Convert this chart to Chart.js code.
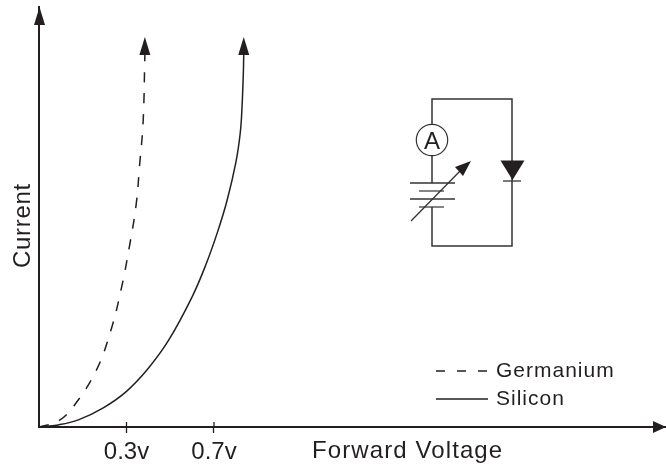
<!DOCTYPE html>
<html>
<head>
<meta charset="utf-8">
<style>
  html, body { margin: 0; padding: 0; background: #fff; }
  canvas { display: block; }
</style>
<script src="https://cdn.jsdelivr.net/npm/chart.js"></script>
</head>
<body>
<canvas id="chart" width="666" height="465"></canvas>
<script>
// axis units are arbitrary: the picture has no real scale, one x unit = one tick step
const germaniumX = [0, 0.22, 0.39, 0.65, 0.82, 0.94, 1.03, 1.11, 1.15, 1.19, 1.21];
const germaniumY = [0, 1.4, 4.8, 13.3, 22.9, 32.9, 42.6, 52.9, 62.4, 72.6, 88.6];
const siliconX = [0, 0.22, 0.45, 0.73, 0.99, 1.25, 1.48, 1.75, 1.91, 2.04, 2.15, 2.25, 2.30, 2.32, 2.335, 2.34];
const siliconY = [0, 0.5, 1.7, 4.5, 8.3, 14, 20.6, 31, 38.8, 46.4, 54, 63, 70, 76, 84, 88.6];
const tickValues = [1, 2];
const tickLabels = ['0.3v', '0.7v'];
const seriesNames = ['Germanium', 'Silicon'];
const xTitle = 'Forward Voltage';
const yTitle = 'Current';

const INK = '#231f20';
const FONT = '"Liberation Sans", Arial, sans-serif';

function toPoints(xs, ys) {
    return xs.map((x, i) => ({ x: x, y: ys[i] }));
}

function triangle(ctx, a, b, c) {
    ctx.beginPath();
    ctx.moveTo(a[0], a[1]);
    ctx.lineTo(b[0], b[1]);
    ctx.lineTo(c[0], c[1]);
    ctx.closePath();
    ctx.fill();
}

function line(ctx, x1, y1, x2, y2, w) {
    ctx.lineWidth = w;
    ctx.beginPath();
    ctx.moveTo(x1, y1);
    ctx.lineTo(x2, y2);
    ctx.stroke();
}

function drawCircuit(ctx) {
    ctx.strokeStyle = '#333';
    ctx.fillStyle = INK;
    // wires
    ctx.lineWidth = 1.5;
    ctx.beginPath();
    ctx.moveTo(432, 124);
    ctx.lineTo(432, 99);
    ctx.lineTo(512, 99);
    ctx.lineTo(512, 246);
    ctx.lineTo(432, 246);
    ctx.lineTo(432, 207);
    ctx.stroke();
    line(ctx, 432, 156, 432, 183, 1.5);
    // ammeter
    ctx.lineWidth = 1.2;
    ctx.beginPath();
    ctx.arc(432, 140, 15.7, 0, Math.PI * 2);
    ctx.stroke();
    ctx.font = '24px ' + FONT;
    ctx.textAlign = 'center';
    ctx.textBaseline = 'alphabetic';
    ctx.fillText('A', 432, 149);
    // battery
    line(ctx, 410, 183, 455, 183, 1.6);
    line(ctx, 419, 191, 444, 191, 1.2);
    line(ctx, 410, 199, 455, 199, 1.6);
    line(ctx, 419, 207, 444, 207, 1.2);
    // variable arrow
    line(ctx, 411, 221, 462, 169, 1.3);
    triangle(ctx, [471, 161], [455, 167], [463, 176]);
    // diode
    triangle(ctx, [500.5, 160.5], [524.5, 160.5], [512.5, 180]);
    line(ctx, 503, 181, 521, 181, 1.3);
}

const extras = {
    id: 'extras',
    afterDatasetsDraw(chart) {
        const ctx = chart.ctx;
        const sx = chart.scales.x;
        const sy = chart.scales.y;
        const x0 = sx.left + 0.5;
        const y0 = sy.bottom;
        ctx.save();
        ctx.fillStyle = INK;
        ctx.strokeStyle = INK;

        // axis arrows
        triangle(ctx, [x0, sy.top], [x0 - 5.5, sy.top + 18], [x0 + 5.5, sy.top + 18]);
        triangle(ctx, [sx.right, y0], [sx.right - 13, y0 - 6], [sx.right - 13, y0 + 6]);

        // tick stubs above the axis
        tickValues.forEach(v => {
            const px = sx.getPixelForValue(v);
            line(ctx, px, y0 - 5, px, y0, 1.3);
        });

        // arrow at the end of each curve
        chart.getSortedVisibleDatasetMetas().forEach(meta => {
            const p = meta.data[meta.data.length - 1];
            triangle(ctx, [p.x, p.y - 18], [p.x - 5.5, p.y], [p.x + 5.5, p.y]);
        });

        // axis titles
        ctx.textBaseline = 'alphabetic';
        ctx.textAlign = 'left';
        ctx.font = '24px ' + FONT;
        ctx.letterSpacing = '1.1px';
        ctx.fillText(xTitle, 312, 458);
        ctx.save();
        ctx.translate(30, 268);
        ctx.rotate(-Math.PI / 2);
        ctx.letterSpacing = '0.7px';
        ctx.fillText(yTitle, 0, 0);
        ctx.restore();

        // legend
        ctx.font = '21px ' + FONT;
        ctx.letterSpacing = '1px';
        const rows = [371, 399];
        chart.data.datasets.forEach((ds, i) => {
            ctx.setLineDash(i === 0 ? [9, 12] : []);
            line(ctx, 436, rows[i], 488, rows[i], 1.4);
            ctx.setLineDash([]);
            ctx.fillText(ds.label, 496, rows[i] + 6);
        });
        ctx.letterSpacing = '0px';

        drawCircuit(ctx);
        ctx.restore();
    }
};

new Chart(document.getElementById('chart'), {
    type: 'line',
    data: {
        datasets: [{
            label: seriesNames[0],
            data: toPoints(germaniumX, germaniumY),
            borderColor: INK,
            borderWidth: 1.5,
            borderDash: [10, 11],
            tension: 0.4,
            pointRadius: 0,
            fill: false
        }, {
            label: seriesNames[1],
            data: toPoints(siliconX, siliconY),
            borderColor: INK,
            borderWidth: 1.5,
            tension: 0.4,
            pointRadius: 0,
            fill: false
        }]
    },
    options: {
        responsive: false,
        animation: false,
        layout: { padding: { top: 7, left: 0, right: 0, bottom: 0 } },
        plugins: { legend: { display: false }, tooltip: { enabled: false } },
        scales: {
            x: {
                type: 'linear',
                min: 0,
                max: 7.166,
                afterBuildTicks: s => { s.ticks = tickValues.map(v => ({ value: v })); },
                afterFit: s => { s.height = 38; },
                border: { color: INK, width: 2 },
                grid: { drawOnChartArea: false, drawTicks: true, tickLength: 6, tickColor: INK, tickWidth: 1.3 },
                ticks: {
                    autoSkip: false,
                    maxRotation: 0,
                    padding: 5,
                    color: INK,
                    font: { family: FONT, size: 24 },
                    callback: (v, i) => tickLabels[i]
                }
            },
            y: {
                min: 0,
                max: 100,
                afterFit: s => { s.width = 39; },
                border: { color: INK, width: 2 },
                grid: { display: false },
                ticks: { display: false }
            }
        }
    },
    plugins: [extras]
});
</script>
</body>
</html>
